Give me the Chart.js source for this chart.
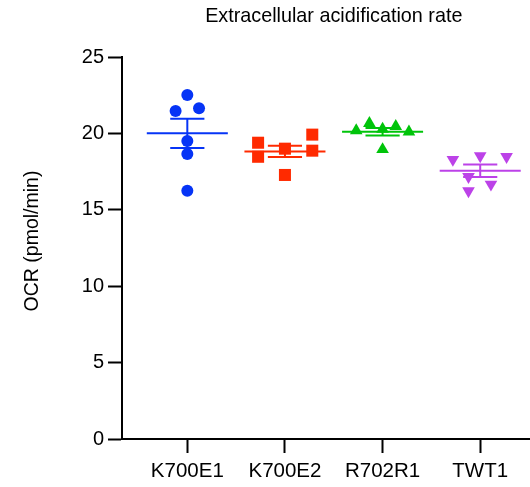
<!DOCTYPE html>
<html>
<head>
<meta charset="utf-8">
<script src="https://cdn.jsdelivr.net/npm/chart.js@4/dist/chart.umd.min.js"></script>
<style>
  html, body { margin: 0; padding: 0; background: #fff; overflow: hidden; }
  canvas { display: block; }
</style>
</head>
<body>
<canvas id="chart" width="530" height="487"></canvas>
<script>
// Dot plot with mean +/- SEM per clone
const categories = ['K700E1', 'K700E2', 'R702R1', 'TWT1'];
const k700e1Values = [22.51, 21.47, 21.64, 19.50, 18.65, 16.25];
const k700e2Values = [19.39, 18.47, 19.00, 19.92, 18.87, 17.28];
const r702r1Values = [20.18, 20.66, 20.28, 20.46, 20.10, 18.95];
const twt1Values = [18.29, 18.53, 18.48, 17.17, 16.67, 16.23];
const yTicks = [0, 5, 10, 15, 20, 25];

const chartTitle = 'Extracellular acidification rate';
const yTitle = 'OCR (pmol/min)';

// horizontal scatter of the dots inside each column (category units)
const jitter = [
  [0, -0.12, 0.12, 0, 0, 0],
  [-0.275, -0.275, 0, 0.28, 0.28, 0],
  [-0.27, -0.135, 0, 0.135, 0.27, 0],
  [-0.28, 0, 0.27, -0.12, 0.11, -0.12]
];

const groups = [
  { values: k700e1Values, color: '#0634F6', style: 'circle', radius: 6, rotation: 0 },
  { values: k700e2Values, color: '#FF2A00', style: 'rect', radius: 8.5, rotation: 0 },
  { values: r702r1Values, color: '#00C40A', style: 'triangle', radius: 7.3, rotation: 0 },
  { values: twt1Values, color: '#BC42E8', style: 'triangle', radius: 7.3, rotation: 180 }
];

const FONT = 'Helvetica, Arial, "Liberation Sans", sans-serif';

function meanSem(arr) {
  const n = arr.length;
  const m = arr.reduce((a, b) => a + b, 0) / n;
  const sd = Math.sqrt(arr.reduce((a, b) => a + (b - m) * (b - m), 0) / (n - 1));
  return { mean: m, sem: sd / Math.sqrt(n) };
}

function lineSet(points, color) {
  return {
    type: 'line',
    data: points,
    borderColor: color,
    borderWidth: 2,
    pointRadius: 0,
    showLine: true,
    fill: false,
    clip: false
  };
}

const datasets = [];
groups.forEach((g, i) => {
  datasets.push({
    type: 'scatter',
    data: g.values.map((v, j) => ({ x: i + jitter[i][j], y: v })),
    backgroundColor: g.color,
    borderColor: g.color,
    borderWidth: 0,
    pointStyle: g.style,
    pointRadius: g.radius,
    rotation: g.rotation,
    clip: false
  });
  const s = meanSem(g.values);
  const hi = s.mean + s.sem;
  const lo = s.mean - s.sem;
  datasets.push(lineSet([{ x: i - 0.415, y: s.mean }, { x: i + 0.415, y: s.mean }], g.color));
  datasets.push(lineSet([{ x: i, y: lo }, { x: i, y: hi }], g.color));
  datasets.push(lineSet([{ x: i - 0.175, y: hi }, { x: i + 0.175, y: hi }], g.color));
  datasets.push(lineSet([{ x: i - 0.175, y: lo }, { x: i + 0.175, y: lo }], g.color));
});

// title and y axis label drawn as text on the canvas
const textPlugin = {
  id: 'texts',
  afterDraw(chart) {
    const ctx = chart.ctx;
    const xs = chart.scales.x;
    ctx.save();
    ctx.fillStyle = '#000';
    ctx.font = '19.8px ' + FONT;
    ctx.textAlign = 'center';
    ctx.textBaseline = 'middle';
    ctx.fillText(chartTitle, xs.getPixelForValue(1.5), 17);
    ctx.translate(33, 241);
    ctx.rotate(-Math.PI / 2);
    ctx.font = '19.5px ' + FONT;
    ctx.fillText(yTitle, 0, 0);
    ctx.restore();
  }
};

const axisGrid = {
  display: true,
  drawOnChartArea: false,
  drawTicks: true,
  tickLength: 14,
  tickWidth: 2,
  tickColor: '#000',
  color: '#000'
};

new Chart(document.getElementById('chart'), {
  data: { datasets: datasets },
  options: {
    responsive: false,
    animation: false,
    layout: { autoPadding: false, padding: { top: 57, left: 0, right: 0, bottom: 0 } },
    plugins: {
      legend: { display: false },
      tooltip: { enabled: false },
      title: { display: false }
    },
    scales: {
      x: {
        type: 'linear',
        min: -0.669,
        max: 3.51,
        grid: axisGrid,
        border: { display: true, color: '#000', width: 2 },
        afterBuildTicks: scale => {
          scale.ticks = categories.map((c, i) => ({ value: i }));
        },
        afterFit: scale => {
          scale.height = 48;
          scale.paddingLeft = 0;
          scale.paddingRight = 0;
        },
        ticks: {
          color: '#000',
          font: { family: FONT, size: 20.5 },
          padding: 6,
          maxRotation: 0,
          autoSkip: false,
          callback: v => categories[v] ?? ''
        }
      },
      y: {
        type: 'linear',
        min: 0,
        max: 25,
        grid: axisGrid,
        border: { display: true, color: '#000', width: 2 },
        afterBuildTicks: scale => {
          scale.ticks = yTicks.map(v => ({ value: v }));
        },
        afterFit: scale => {
          scale.width = 122;
          scale.paddingTop = 0;
          scale.paddingBottom = 0;
        },
        ticks: {
          color: '#000',
          font: { family: FONT, size: 20 },
          padding: 4
        }
      }
    }
  },
  plugins: [textPlugin]
});
</script>
</body>
</html>
